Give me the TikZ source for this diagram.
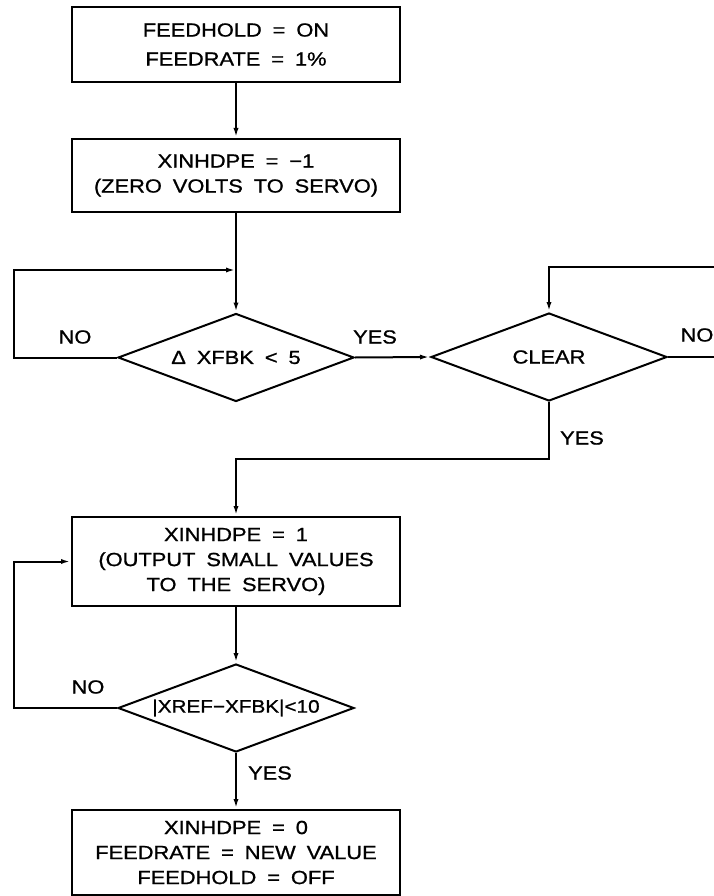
\documentclass[tikz,border=0pt]{standalone}
\usepackage{fontspec}
\setmainfont{Liberation Sans}[FakeStretch=1.15,WordSpace=1.8,FakeBold=1]
\usetikzlibrary{shapes.geometric,arrows.meta}

\begin{document}
\begin{tikzpicture}[x=1pt,y=-1pt,line width=2pt,font=\fontsize{19}{25}\selectfont,
  blk/.style={draw,rectangle,minimum width=328pt,align=center,inner sep=0pt},
  dec/.style={draw,diamond,minimum width=236pt,minimum height=88pt,inner sep=0pt},
  arr/.style={-{Latex[length=10pt,width=5pt]}},
  lbl/.style={inner sep=0pt}]
\useasboundingbox (0,0) rectangle (714,896);
\clip (0,0) rectangle (714,896);

\node[blk,minimum height=75pt] (b1) at (236,44.5) {FEEDHOLD = ON\\[4pt]FEEDRATE = 1\%};
\node[blk,minimum height=73pt] (b2) at (236,175.5) {XINHDPE = −1\\(ZERO VOLTS TO SERVO)};
\node[dec,label=center:{Δ XFBK < 5}] (d1) at (236,357.5) {};
\node[dec,label=center:{CLEAR}] (d2) at (549,357) {};
\node[blk,minimum height=89pt] (b3) at (236,561.5) {XINHDPE = 1\\(OUTPUT SMALL VALUES\\TO THE SERVO)};
\node[dec,label={[font=\fontsize{18}{22}\selectfont]center:{|XREF−XFBK|<10}}] (d3) at (236,708) {};
\node[blk,minimum height=85pt] (b4) at (236,852.5) {XINHDPE = 0\\FEEDRATE = NEW VALUE\\FEEDHOLD = OFF};

\node[lbl] (no1) at (75,337) {NO};
\node[lbl] (yes1) at (375,337) {YES};
\node[lbl] (no2) at (697,335) {NO};
\node[lbl] (yes2) at (582,438) {YES};
\node[lbl] (no3) at (88,687) {NO};
\node[lbl] (yes3) at (270,773) {YES};

\coordinate (j1) at (236,270);
\coordinate (j2) at (549,267);
\coordinate (j3) at (236,459);

\draw[arr] (b1) -- (b2);
\draw[arr] (b2) -- (d1);
\draw[arr] (d1.west) -| (14,270) -- (j1);
\draw[arr] (d1.east) -- (d2.west);
\draw[arr] (d2.east) -- (730,357) |- (j2) -- (d2.north);
\draw[arr] (d2.south) |- (j3) -- (b3.north);
\draw[arr] (b3) -- (d3);
\draw[arr] (d3.west) -- (14,708) |- (b3.west);
\draw[arr] (d3) -- (b4);
\end{tikzpicture}
\end{document}
